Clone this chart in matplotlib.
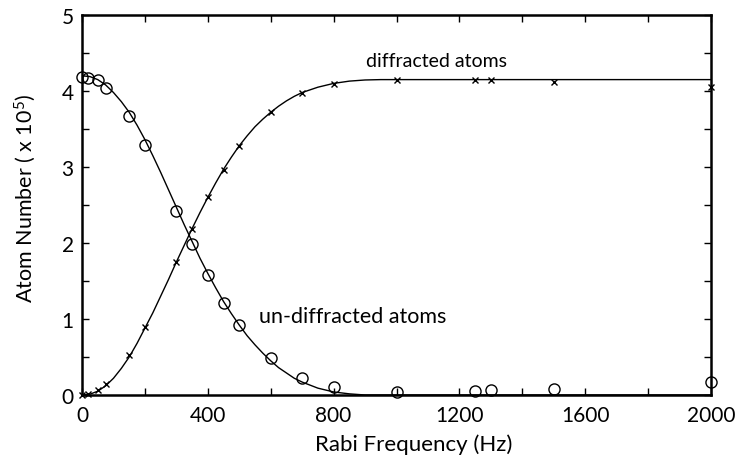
import matplotlib
matplotlib.use("Agg")
import matplotlib.pyplot as plt
from matplotlib.ticker import MultipleLocator

plt.rcParams['font.family'] = ['Lato', 'DejaVu Sans']
plt.rcParams['mathtext.default'] = 'regular'

# measured points
undiff_f = [0, 20, 50, 75, 150, 200, 300, 350, 400, 450, 500, 600, 700, 800, 1000, 1250, 1300, 1500, 2000]
undiff_n = [4.19, 4.17, 4.14, 4.04, 3.67, 3.29, 2.42, 1.99, 1.58, 1.21, 0.92, 0.49, 0.22, 0.105, 0.04, 0.05, 0.066, 0.08, 0.17]

diff_f = [0, 20, 50, 75, 150, 200, 300, 350, 400, 450, 500, 600, 700, 800, 1000, 1250, 1300, 1500, 2000]
diff_n = [0.0, 0.01, 0.06, 0.15, 0.53, 0.9, 1.75, 2.19, 2.6, 2.96, 3.27, 3.72, 3.97, 4.09, 4.15, 4.15, 4.14, 4.12, 4.05]

# fitted curves
fit_f = [0, 25, 50, 75, 100, 125, 150, 175, 200, 225, 250, 275, 300, 325, 350, 375, 400, 425, 450, 475,
         500, 525, 550, 575, 600, 625, 650, 675, 700, 750, 800, 850, 900, 950, 1000, 1500, 2000]
fit_undiff = [4.20, 4.19, 4.15, 4.08, 3.98, 3.86, 3.72, 3.55, 3.36, 3.15, 2.93, 2.70, 2.47, 2.24, 2.02, 1.80, 1.60, 1.41, 1.23, 1.07,
              0.92, 0.78, 0.66, 0.55, 0.45, 0.36, 0.29, 0.22, 0.17, 0.09, 0.04, 0.015, 0.0, 0.0, 0.0, 0.0, 0.0]
fit_diff = [0.0, 0.01, 0.05, 0.12, 0.22, 0.35, 0.50, 0.68, 0.88, 1.08, 1.30, 1.52, 1.75, 1.97, 2.19, 2.40, 2.60, 2.79, 2.97, 3.13,
            3.28, 3.41, 3.53, 3.63, 3.72, 3.80, 3.87, 3.93, 3.98, 4.05, 4.10, 4.13, 4.145, 4.15, 4.15, 4.15, 4.15]

label_diff = "diffracted atoms"
label_undiff = "un-diffracted atoms"

fig = plt.figure(figsize=(7.37, 4.56), dpi=100)
ax = fig.add_axes([0.1113, 0.1316, 0.8534, 0.8333])

ax.plot(fit_f, fit_undiff, color='black', lw=1.0)
ax.plot(fit_f, fit_diff, color='black', lw=1.0)
ax.plot(undiff_f, undiff_n, linestyle='none', marker='o', ms=8, mfc='none', mec='black', mew=1.0, clip_on=False)
ax.plot(diff_f, diff_n, linestyle='none', marker='x', ms=5, mec='black', mew=1.0, clip_on=False)

ax.text(1126, 4.40, label_diff, ha='center', va='center', fontsize=14)
ax.text(862, 1.04, label_undiff, ha='center', va='center', fontsize=15.5)

ax.set_xlim(0, 2000)
ax.set_ylim(0, 5)
ax.xaxis.set_major_locator(MultipleLocator(400))
ax.xaxis.set_minor_locator(MultipleLocator(200))
ax.yaxis.set_major_locator(MultipleLocator(1))
ax.yaxis.set_minor_locator(MultipleLocator(0.5))
ax.tick_params(which='both', direction='in', top=True, right=True, length=5, width=1, labelsize=15)
ax.tick_params(axis='x', pad=7)
ax.tick_params(axis='y', pad=6)
for s in ax.spines.values():
    s.set_linewidth(1.8)

ax.set_xlabel("Rabi Frequency (Hz)", fontsize=16, va='center')
ax.xaxis.set_label_coords(0.528, -0.129)
ax.set_ylabel("Atom Number ( x 10$^{5}$)", fontsize=15.5, va='center')
ax.yaxis.set_label_coords(-0.091, 0.521)

fig.savefig("out.png", dpi=100)
